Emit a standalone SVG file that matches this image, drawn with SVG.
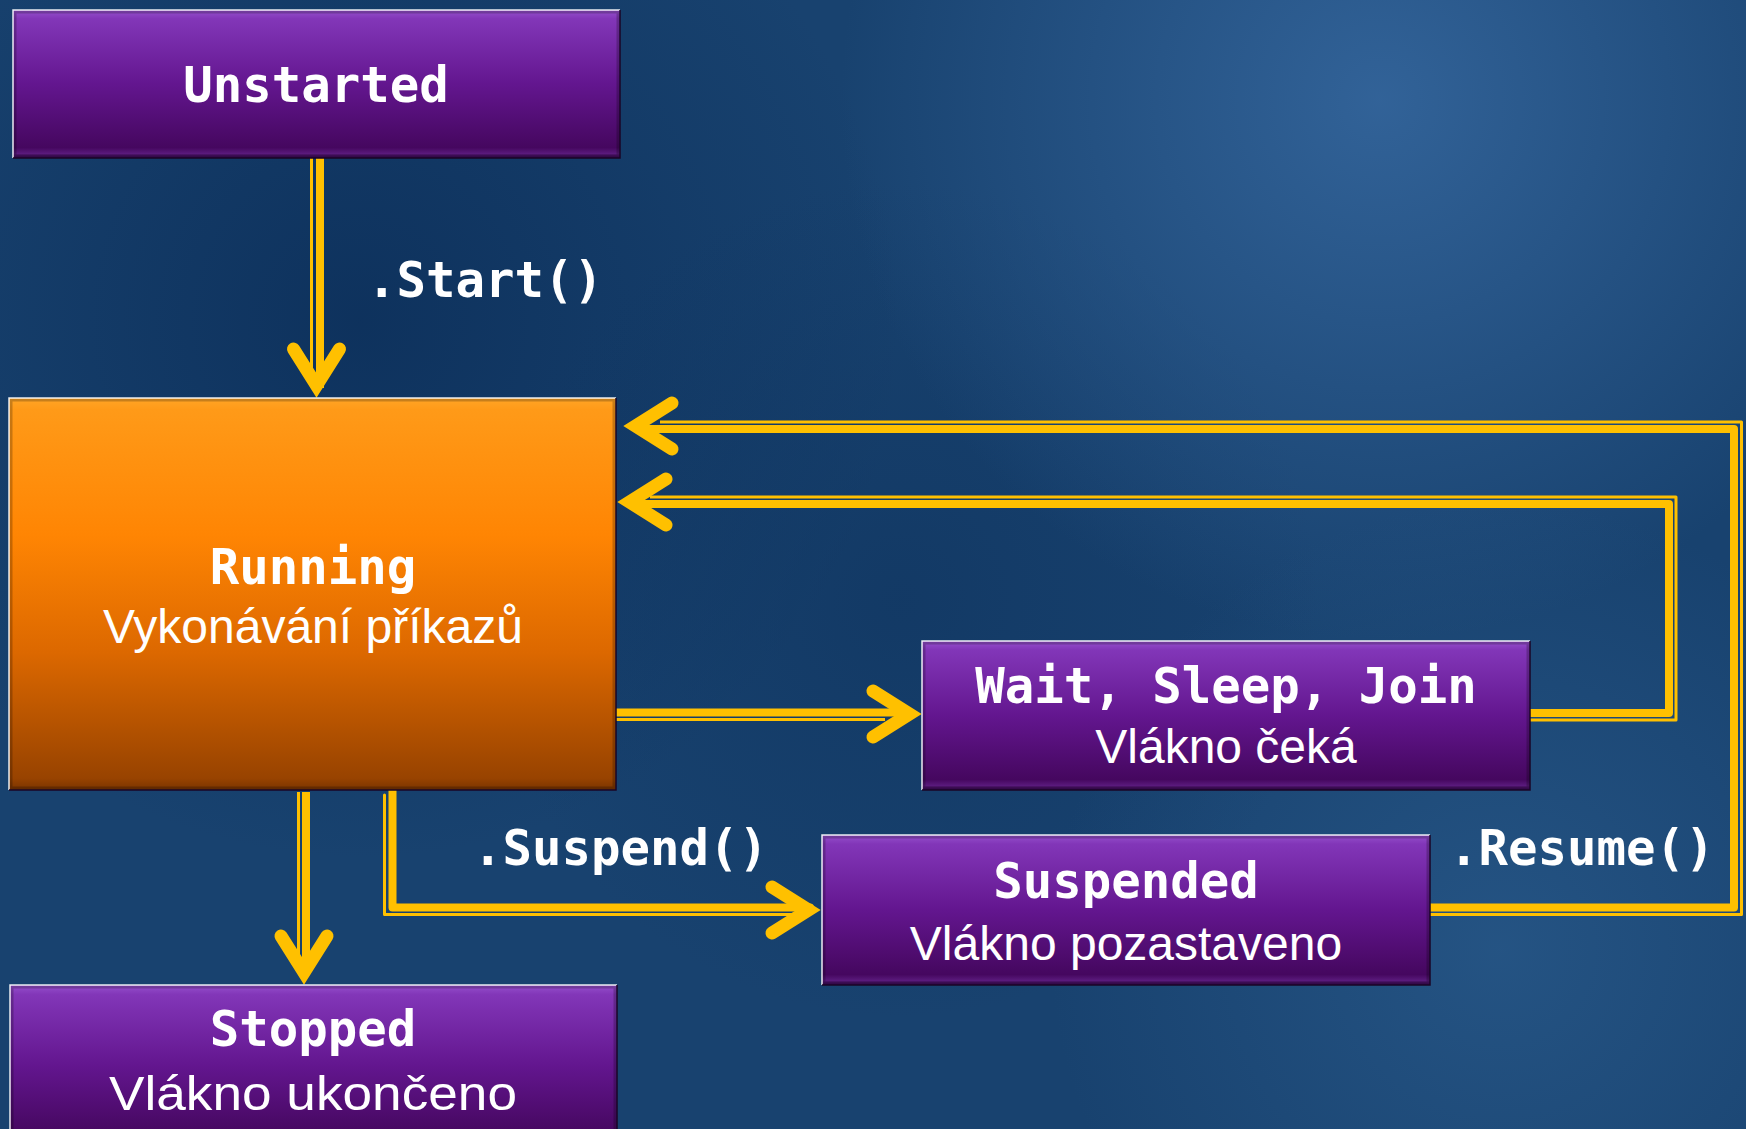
<svg xmlns="http://www.w3.org/2000/svg" xmlns:xlink="http://www.w3.org/1999/xlink" width="1746" height="1129" viewBox="0 0 1746 1129">
<defs>
<linearGradient id="gp" x1="0" y1="0" x2="0" y2="1">
<stop offset="0" stop-color="#9550CC"/>
<stop offset="0.06" stop-color="#8236B8"/>
<stop offset="0.5" stop-color="#63168F"/>
<stop offset="0.93" stop-color="#45075F"/>
<stop offset="0.97" stop-color="#5A1A7C"/>
<stop offset="1" stop-color="#3A0552"/>
</linearGradient>
<linearGradient id="go" x1="0" y1="0" x2="0" y2="1">
<stop offset="0" stop-color="#FFA526"/>
<stop offset="0.03" stop-color="#FF9A18"/>
<stop offset="0.35" stop-color="#FF8503"/>
<stop offset="0.65" stop-color="#DC6800"/>
<stop offset="0.97" stop-color="#984300"/>
<stop offset="1" stop-color="#7A3400"/>
</linearGradient>
<radialGradient id="bgl1" cx="1380" cy="100" r="540" gradientUnits="userSpaceOnUse">
<stop offset="0" stop-color="#33649A" stop-opacity="0.95"/>
<stop offset="1" stop-color="#33649A" stop-opacity="0"/>
</radialGradient>
<radialGradient id="bgl2" cx="1500" cy="950" r="450" gradientUnits="userSpaceOnUse">
<stop offset="0" stop-color="#2A5B8C" stop-opacity="0.7"/>
<stop offset="1" stop-color="#2A5B8C" stop-opacity="0"/>
</radialGradient>
<radialGradient id="bgd" cx="360" cy="320" r="540" gradientUnits="userSpaceOnUse">
<stop offset="0" stop-color="#0C2F5A" stop-opacity="0.85"/>
<stop offset="1" stop-color="#0C2F5A" stop-opacity="0"/>
</radialGradient>
<radialGradient id="bgd2" cx="900" cy="600" r="420" gradientUnits="userSpaceOnUse">
<stop offset="0" stop-color="#0F345F" stop-opacity="0.6"/>
<stop offset="1" stop-color="#0F345F" stop-opacity="0"/>
</radialGradient>
<path id="chev" d="M -49,-23 L -12.5,0 L -49,23" fill="none" stroke="#FFC000" stroke-width="13" stroke-linecap="round" stroke-linejoin="miter" stroke-miterlimit="6"/>
<style>
.bp{fill:url(#gp);}
.bo{fill:url(#go);}
.rim{fill:none;stroke:#000;stroke-opacity:0.22;stroke-width:3;}
.hl{stroke:#FFFFFF;stroke-width:1.5;stroke-opacity:0.9;fill:none;}
.sh{stroke:#1A0526;stroke-width:1.5;fill:none;}
.t{font-family:"DejaVu Sans Mono","Liberation Mono",monospace;font-weight:bold;font-size:49px;fill:#FFFFFF;text-anchor:middle;}
.lbl{font-family:"DejaVu Sans Mono","Liberation Mono",monospace;font-weight:bold;font-size:49px;fill:#FFFFFF;}
.s{font-family:"Liberation Sans","Arial",sans-serif;font-size:48px;fill:#FFFFFF;text-anchor:middle;}
.thick{fill:none;stroke:#FFC000;stroke-width:8;stroke-linejoin:round;}
.thin{fill:none;stroke:#FFC000;stroke-width:3;stroke-linejoin:round;}
</style>
</defs>

<g id="background">
<rect x="0" y="0" width="1746" height="1129" fill="#18426F"/>
<rect x="0" y="0" width="1746" height="1129" fill="url(#bgd)"/>
<rect x="0" y="0" width="1746" height="1129" fill="url(#bgd2)"/>
<rect x="0" y="0" width="1746" height="1129" fill="url(#bgl1)"/>
<rect x="0" y="0" width="1746" height="1129" fill="url(#bgl2)"/>
</g>

<g id="connectors">
<g id="c-start">
<path class="thin" d="M311.5,158 V372"/>
<path class="thick" d="M320,158 V388"/>
<use xlink:href="#chev" transform="translate(316.5,398) rotate(90)"/>
</g>
<g id="c-stop">
<path class="thin" d="M298.5,792 V960"/>
<path class="thick" d="M306,792 V975"/>
<use xlink:href="#chev" transform="translate(304,985) rotate(90)"/>
</g>
<g id="c-wait">
<path class="thin" d="M616,719.5 H885"/>
<path class="thick" d="M616,712.5 H910"/>
<use xlink:href="#chev" transform="translate(922,714)"/>
</g>
<g id="c-suspend">
<path class="thin" d="M384.5,795 V914.5 H792" stroke-linecap="round"/>
<path class="thick" d="M392.5,784 V907.5 H810" stroke-linecap="round"/>
<use xlink:href="#chev" transform="translate(821,910)"/>
</g>
<g id="c-wait-return">
<path class="thin" d="M1530,720 H1676 V497 H650"/>
<path class="thick" d="M1530,713 H1669 V504 H630"/>
<use xlink:href="#chev" transform="translate(617,502) rotate(180)"/>
</g>
<g id="c-resume">
<path class="thin" d="M1430,914.5 H1741.5 V422 H660"/>
<path class="thick" d="M1430,907.5 H1734 V429 H636"/>
<use xlink:href="#chev" transform="translate(623,426) rotate(180)"/>
</g>
<text class="lbl" x="367" y="297">.Start()</text>
<text class="lbl" x="473" y="865">.Suspend()</text>
<text class="lbl" x="1449" y="865">.Resume()</text>
</g>

<g id="node-unstarted">
<rect class="bp" x="13" y="10" width="607" height="148"/>
<rect class="rim" x="15" y="12" width="603" height="144"/>
<path class="hl" d="M13,158 V10 H620"/>
<path class="sh" d="M620,10 V158 H13"/>
<text class="t" x="316" y="102">Unstarted</text>
</g>

<g id="node-running">
<rect class="bo" x="9" y="398" width="607" height="392"/>
<rect class="rim" x="11" y="400" width="603" height="388"/>
<path class="hl" d="M9,790 V398 H616"/>
<path class="sh" d="M616,398 V790 H9"/>
<text class="t" x="313" y="584">Running</text>
<text class="s" x="313" y="643">Vykonávání příkazů</text>
</g>

<g id="node-wait">
<rect class="bp" x="922" y="641" width="608" height="149"/>
<rect class="rim" x="924" y="643" width="604" height="145"/>
<path class="hl" d="M922,790 V641 H1530"/>
<path class="sh" d="M1530,641 V790 H922"/>
<text class="t" x="1226" y="703">Wait, Sleep, Join</text>
<text class="s" x="1226" y="763">Vlákno čeká</text>
</g>

<g id="node-suspended">
<rect class="bp" x="822" y="835" width="608" height="150"/>
<rect class="rim" x="824" y="837" width="604" height="146"/>
<path class="hl" d="M822,985 V835 H1430"/>
<path class="sh" d="M1430,835 V985 H822"/>
<text class="t" x="1126" y="898">Suspended</text>
<text class="s" x="1126" y="960">Vlákno pozastaveno</text>
</g>

<g id="node-stopped">
<rect class="bp" x="10" y="985" width="607" height="160"/>
<rect class="rim" x="12" y="987" width="603" height="156"/>
<path class="hl" d="M10,1145 V985 H617"/>
<path class="sh" d="M617,985 V1145"/>
<text class="t" x="313" y="1046">Stopped</text>
<text class="s" x="313" y="1110" textLength="408" lengthAdjust="spacingAndGlyphs">Vlákno ukončeno</text>
</g>
</svg>
